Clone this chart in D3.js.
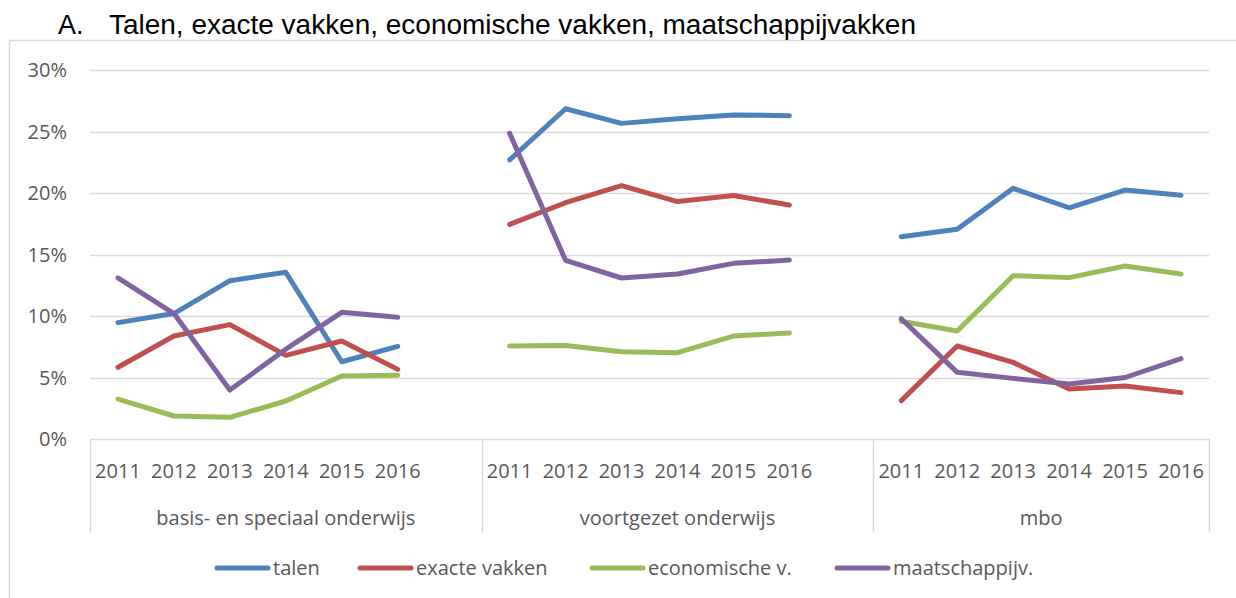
<!DOCTYPE html>
<html lang="nl">
<head>
<meta charset="utf-8">
<title>Talen, exacte vakken, economische vakken, maatschappijvakken</title>
<style>
  html, body { margin: 0; padding: 0; background: #fff; }
  svg { display: block; }
  .tick-label { font-family: "Open Sans", sans-serif; font-size: 20px; fill: #595959; }
  .title { font-family: "Liberation Sans", Arial, sans-serif; font-size: 27px; fill: #000; }
</style>
</head>
<body>
<div id="chart"></div>
<script src="https://cdn.jsdelivr.net/npm/d3@7"></script>
<script>
// data
var groups = ["basis- en speciaal onderwijs", "voortgezet onderwijs", "mbo"];
var years = ["2011", "2012", "2013", "2014", "2015", "2016"];
var yTicks = [0, 0.05, 0.10, 0.15, 0.20, 0.25, 0.30];

// per groep: basis, vo, mbo (6 jaren elk)
var talen = [
  [0.0946, 0.1020, 0.1287, 0.1355, 0.0628, 0.0753],
  [0.2270, 0.2685, 0.2566, 0.2604, 0.2634, 0.2629],
  [0.1645, 0.1705, 0.2038, 0.1880, 0.2024, 0.1981]
];
var exacte = [
  [0.0583, 0.0837, 0.0930, 0.0680, 0.0797, 0.0566],
  [0.1745, 0.1921, 0.2060, 0.1930, 0.1980, 0.1902],
  [0.0312, 0.0756, 0.0623, 0.0407, 0.0431, 0.0377]
];
var economisch = [
  [0.0325, 0.0187, 0.0176, 0.0309, 0.0512, 0.0518],
  [0.0756, 0.0761, 0.0710, 0.0702, 0.0837, 0.0862],
  [0.0957, 0.0878, 0.1328, 0.1312, 0.1407, 0.1341]
];
var maatschappij = [
  [0.1310, 0.1020, 0.0398, 0.0730, 0.1030, 0.0990],
  [0.2485, 0.1453, 0.1309, 0.1341, 0.1428, 0.1455],
  [0.0978, 0.0542, 0.0493, 0.0447, 0.0500, 0.0653]
];

var seriesNames = ["talen", "exacte vakken", "economische v.", "maatschappijv."];
var seriesColors = ["#4f81bd", "#c0504d", "#9bbb59", "#8064a2"];
var seriesValues = [talen, exacte, economisch, maatschappij];

var width = 1236, height = 598;
var svg = d3.select("#chart").append("svg")
  .attr("width", width).attr("height", height);

// categorieen: jaren per groep, met een lege kolom tussen de groepen
var cats = [];
groups.forEach(function(g, gi) {
  years.forEach(function(y) { cats.push(gi + "|" + y); });
  if (gi < groups.length - 1) cats.push(gi + "|blank");
});

var x = d3.scaleBand().domain(cats).range([90, 1209]);
var y = d3.scaleLinear().domain([0, 0.30]).range([439, 70]);

// rand van het diagram
svg.append("path")
  .attr("d", "M9.5," + height + "V40.5H" + width)
  .attr("fill", "none").attr("stroke", "#d9d9d9").attr("stroke-width", 1.5);

// titel
svg.append("text").attr("class", "title").attr("x", 58).attr("y", 34).text("A.");
svg.append("text").attr("class", "title").attr("x", 109).attr("y", 34)
  .attr("textLength", 807).attr("lengthAdjust", "spacingAndGlyphs")
  .text("Talen, exacte vakken, economische vakken, maatschappijvakken");

// rasterlijnen + y-as labels
svg.append("g").selectAll("line").data(yTicks.slice(1)).enter().append("line")
  .attr("x1", 90).attr("x2", 1209)
  .attr("y1", function(d) { return Math.round(y(d)) + 0.5; })
  .attr("y2", function(d) { return Math.round(y(d)) + 0.5; })
  .attr("stroke", "#d9d9d9").attr("stroke-width", 1.5);

svg.append("g").selectAll("text").data(yTicks).enter().append("text")
  .attr("class", "tick-label")
  .attr("x", 67).attr("y", function(d) { return y(d); })
  .attr("dy", "0.36em").attr("text-anchor", "end")
  .text(d3.format(".0%"));

// x-as
svg.append("line").attr("x1", 90).attr("x2", 1209).attr("y1", 439.5).attr("y2", 439.5)
  .attr("stroke", "#d9d9d9").attr("stroke-width", 1.5);

var bounds = [x.range()[0]];
groups.forEach(function(g, gi) {
  if (gi < groups.length - 1) bounds.push(x(gi + "|blank") + x.bandwidth());
});
bounds.push(x.range()[1]);

svg.append("g").selectAll("line").data(bounds).enter().append("line")
  .attr("x1", function(d) { return Math.round(d) + 0.5; })
  .attr("x2", function(d) { return Math.round(d) + 0.5; })
  .attr("y1", 439).attr("y2", 532)
  .attr("stroke", "#d9d9d9").attr("stroke-width", 1.5);

svg.append("g").selectAll("text").data(cats.filter(function(c) { return c.indexOf("blank") < 0; }))
  .enter().append("text")
  .attr("class", "tick-label")
  .attr("x", function(d) { return x(d) + x.bandwidth() / 2; })
  .attr("y", 478).attr("text-anchor", "middle")
  .text(function(d) { return d.split("|")[1]; });

svg.append("g").selectAll("text").data(groups).enter().append("text")
  .attr("class", "tick-label")
  .attr("x", function(d, i) { return (bounds[i] + bounds[i + 1]) / 2; })
  .attr("y", 525).attr("text-anchor", "middle")
  .text(function(d) { return d; });

// lijnen
var line = d3.line()
  .x(function(d) { return x(d.cat) + x.bandwidth() / 2; })
  .y(function(d) { return y(d.v); });

seriesValues.forEach(function(vals, si) {
  var g = svg.append("g");
  vals.forEach(function(row, gi) {
    var pts = row.map(function(v, yi) { return { cat: gi + "|" + years[yi], v: v }; });
    g.append("path").datum(pts)
      .attr("d", line)
      .attr("fill", "none")
      .attr("stroke", seriesColors[si])
      .attr("stroke-width", 5)
      .attr("stroke-linejoin", "round")
      .attr("stroke-linecap", "round");
  });
});

// legenda
var legendX = [215, 358, 590, 835];
var leg = svg.append("g").selectAll("g").data(seriesNames).enter().append("g")
  .attr("transform", function(d, i) { return "translate(" + legendX[i] + ",568)"; });
leg.append("line").attr("x1", 2).attr("x2", 53).attr("y1", 0).attr("y2", 0)
  .attr("stroke", function(d, i) { return seriesColors[i]; })
  .attr("stroke-width", 5).attr("stroke-linecap", "round");
leg.append("text").attr("class", "tick-label")
  .attr("x", 58).attr("y", 0).attr("dy", "0.36em")
  .text(function(d) { return d; });
</script>
</body>
</html>
